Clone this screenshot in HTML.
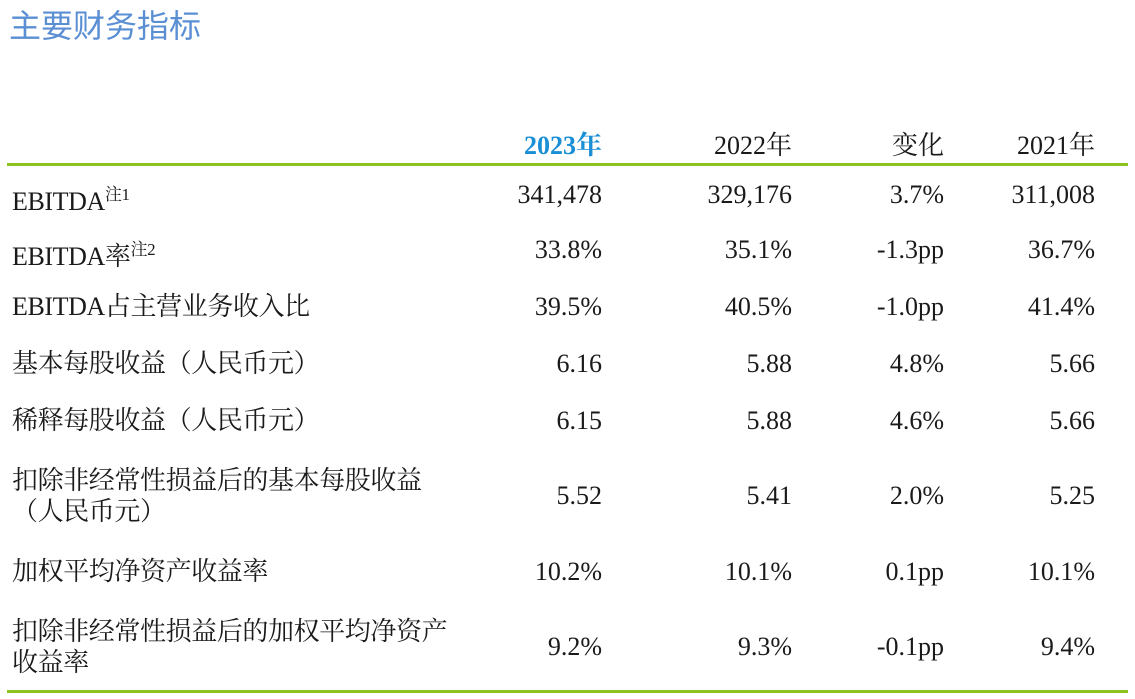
<!DOCTYPE html>
<html><head><meta charset="utf-8"><style>
body{margin:0;width:1135px;height:699px;background:#fff;position:relative;overflow:hidden;font-family:"Liberation Serif","Noto Serif CJK SC",serif;color:#1a1a1a}
.t{position:absolute;font-size:26px;line-height:30px;white-space:nowrap}
.r{text-align:right}
.title{position:absolute;left:9px;top:1px;font-size:32px;color:#5a8fd4;font-family:"Liberation Sans","Noto Sans CJK SC",sans-serif}
.line{position:absolute;left:7px;width:1121px;height:3px;background:#8dc21f}
sup{font-size:17px;vertical-align:10px}
.lab{letter-spacing:-0.4px}
</style></head><body>
<div class="title">主要财务指标</div>
<div class="line" style="top:163px"></div>
<div class="line" style="top:690px"></div>
<div id="tbl"></div>
<script>
const cols=[602,792,944,1095];
const headers=["2023年","2022年","变化","2021年"];
const labels=[["EBITDA<sup>注1</sup>"],["EBITDA率<sup>注2</sup>"],["EBITDA占主营业务收入比"],["基本每股收益（人民币元）"],["稀释每股收益（人民币元）"],["扣除非经常性损益后的基本每股收益","（人民币元）"],["加权平均净资产收益率"],["扣除非经常性损益后的加权平均净资产","收益率"]];
const values=[["341,478","329,176","3.7%","311,008"],["33.8%","35.1%","-1.3pp","36.7%"],["39.5%","40.5%","-1.0pp","41.4%"],["6.16","5.88","4.8%","5.66"],["6.15","5.88","4.6%","5.66"],["5.52","5.41","2.0%","5.25"],["10.2%","10.1%","0.1pp","10.1%"],["9.2%","9.3%","-0.1pp","9.4%"]];
const rowY=[195,250,307,364,421,496,572,647];
const tbl=document.getElementById('tbl');
function add(html,left,right,cy,extra){
  const d=document.createElement('div');
  d.className='t'+(right!=null?' r':' lab');
  d.innerHTML=html;
  if(right!=null){d.style.right=(1135-right)+'px';}else d.style.left=left+'px';
  d.style.top=(cy-15)+'px';
  if(extra)Object.assign(d.style,extra);
  tbl.appendChild(d);return d;
}
headers.forEach((h,i)=>{
  const d=add(h,null,cols[i],146,i==0?{color:'#1a8fd6',fontWeight:'bold'}:null);
  
  
});
labels.forEach((l,r)=>{
  l.forEach((txt,k)=>{
    const cy=l.length==1?rowY[r]:rowY[r]-15+k*31;
    const d=add(txt,12,null,cy);
    
    
  });
  values[r].forEach((v,c)=>{
    const d=add(v,null,cols[c],rowY[r]);
    
    
  });
});
</script>
</body></html>
